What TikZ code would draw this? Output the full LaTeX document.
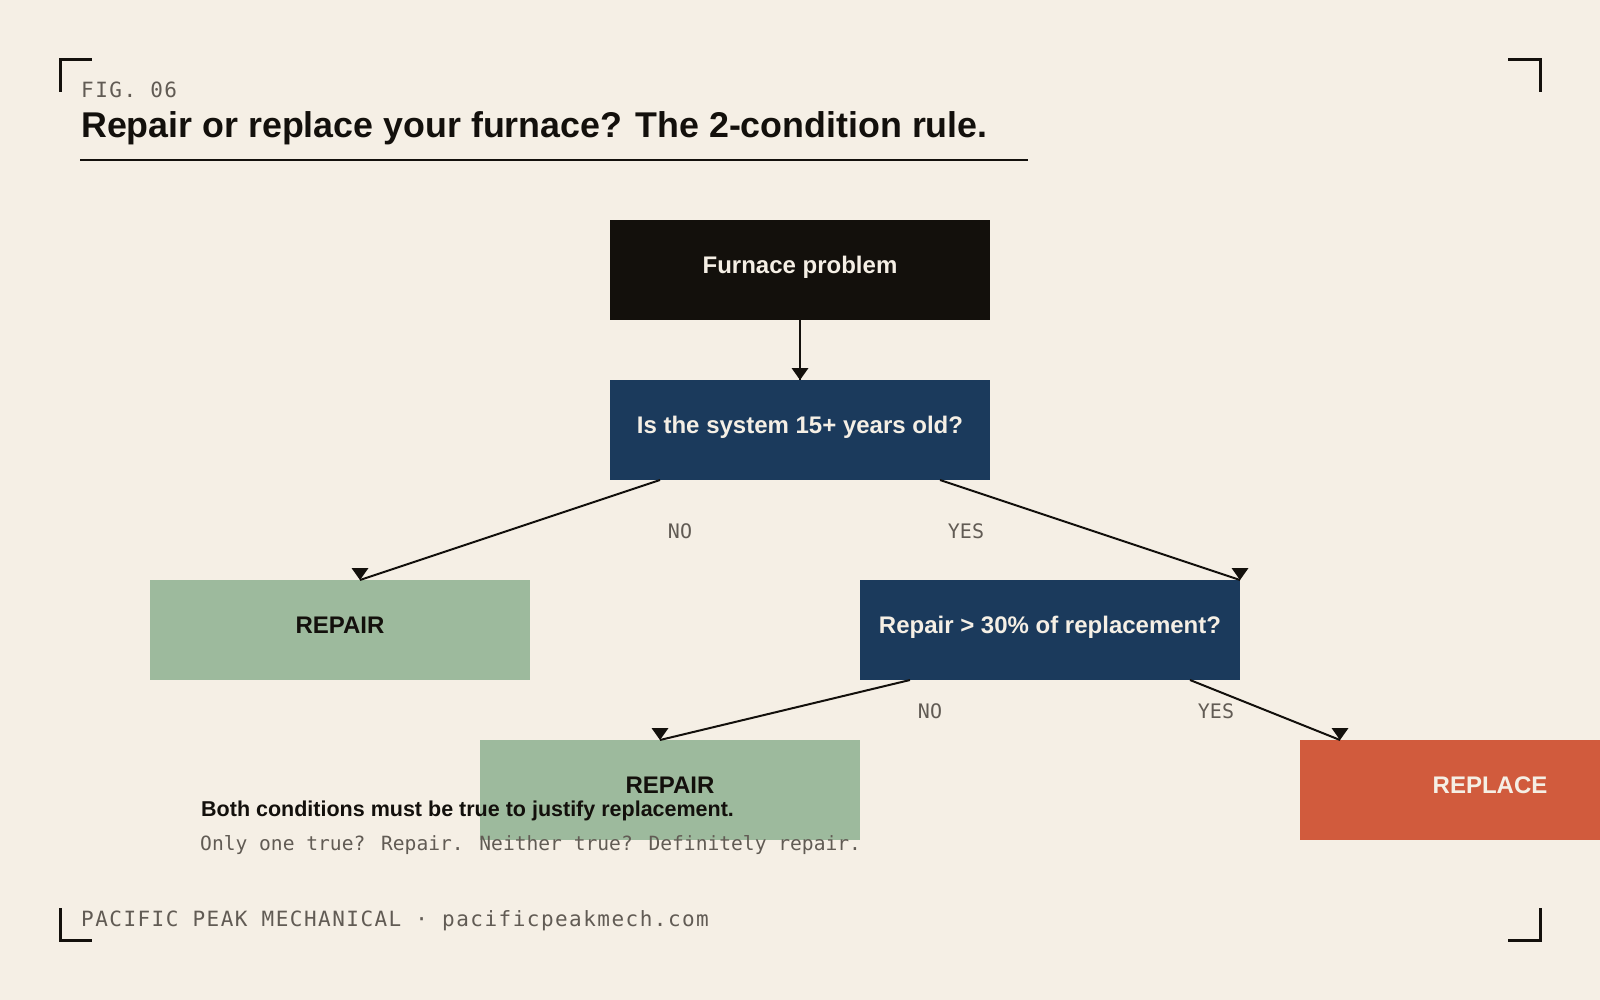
\documentclass[tikz,border=0pt]{standalone}
\usepackage{fontspec}
\setmainfont{Liberation Sans}
\newfontfamily\monoplain{DejaVu Sans Mono}
\newfontfamily\monotrack{DejaVu Sans Mono}[LetterSpace=7]
\usetikzlibrary{calc}
\definecolor{bg}{HTML}{F5EFE5}
\definecolor{ink}{HTML}{13100C}
\definecolor{navy}{HTML}{1B3A5C}
\definecolor{sage}{HTML}{9DBA9D}
\definecolor{rust}{HTML}{D15B3D}
\definecolor{greytxt}{HTML}{615B54}
\definecolor{cream}{HTML}{F5EFE5}
\tikzset{
  box/.style={minimum width=380pt, minimum height=100pt, inner sep=0pt, outer sep=0pt,
    text height=10pt, text depth=3pt, font=\fontsize{24}{28}\selectfont\bfseries},
  darkbox/.style={box, fill=ink, text=cream},
  qbox/.style={box, fill=navy, text=cream},
  okbox/.style={box, fill=sage, text=ink},
  badbox/.style={box, fill=rust, text=cream},
  conn/.style={draw=ink, line width=2pt},
  lab/.style={font=\monoplain\fontsize{20}{24}\selectfont, text=greytxt, anchor=base, inner sep=0pt},
  bracket/.style={draw=ink, line width=3pt},
}
\newcommand{\dtip}[1]{\fill[ink] ($(#1)+(-8.5,-12)$) -- ($(#1)+(8.5,-12)$) -- (#1) -- cycle;}
\begin{document}
\begin{tikzpicture}[x=1pt,y=-1pt]
\path[use as bounding box] (0,0) rectangle (1600,1000);
\clip (0,0) rectangle (1600,1000);
\fill[bg] (0,0) rectangle (1600,1000);

% corner brackets
\draw[bracket] (60,92) -- (60,60) -- (92,60);
\draw[bracket] (1508,60) -- (1540,60) -- (1540,92);
\draw[bracket] (60,908) -- (60,940) -- (92,940);
\draw[bracket] (1508,940) -- (1540,940) -- (1540,908);

% header
\node[anchor=base west, inner sep=0pt, text=greytxt, font=\monotrack\fontsize{21}{25}\selectfont] (fig) at (81,98) {FIG. 06};
\node[anchor=base west, inner sep=0pt, text=ink, font=\fontsize{35.8}{42}\selectfont\bfseries] (title) at (81,138) {Repair or replace your furnace? The 2-condition rule.};
\draw[draw=ink, line width=2pt] (80,160) -- (1028,160);

% boxes
\node[darkbox] (furn) at (800,270) {Furnace problem};
\node[qbox] (q1) at (800,430) {Is the system 15+ years old?};
\node[okbox] (rep1) at (340,630) {REPAIR};
\node[qbox] (q2) at (1050,630) {Repair > 30\% of replacement?};
\node[okbox] (rep2) at (670,790) {REPAIR};
\node[badbox] (repl) at (1490,790) {REPLACE};

% connectors
\coordinate (s1) at ($(q1.south west)+(50,0)$);
\coordinate (s2) at ($(q1.south east)+(-50,0)$);
\coordinate (s3) at ($(q2.south west)+(50,0)$);
\coordinate (s4) at ($(q2.south east)+(-50,0)$);
\coordinate (t0) at (q1.north);
\coordinate (t1) at ($(rep1.north)+(20,0)$);
\coordinate (t2) at (q2.north east);
\coordinate (t3) at ($(rep2.north)+(-10,0)$);
\coordinate (t4) at ($(repl.north west)+(40,0)$);

\draw[conn, line width=2.5pt] (furn.south) -- (t0);
\draw[conn] (s1) -- (t1);
\draw[conn] (s2) -- (t2);
\draw[conn] (s3) -- (t3);
\draw[conn] (s4) -- (t4);
\dtip{t0}
\dtip{t1}
\dtip{t2}
\dtip{t3}
\dtip{t4}

% branch labels
\node[lab] (l1) at (680,538) {NO};
\node[lab] (l2) at (966,538) {YES};
\node[lab] (l3) at (930,718) {NO};
\node[lab] (l4) at (1216,718) {YES};

% notes
\node[anchor=base west, inner sep=0pt, text=ink, font=\fontsize{21.5}{26}\selectfont\bfseries] (note1) at (201,816) {Both conditions must be true to justify replacement.};
\node[anchor=base west, inner sep=0pt, text=greytxt, font=\monoplain\fontsize{19.6}{24}\selectfont] (note2) at (200,850) {Only one true? Repair. Neither true? Definitely repair.};

% footer
\node[anchor=base west, inner sep=0pt, text=greytxt, font=\monotrack\fontsize{21}{25}\selectfont] (foot) at (81,926) {PACIFIC PEAK MECHANICAL · pacificpeakmech.com};
\end{tikzpicture}
\end{document}
